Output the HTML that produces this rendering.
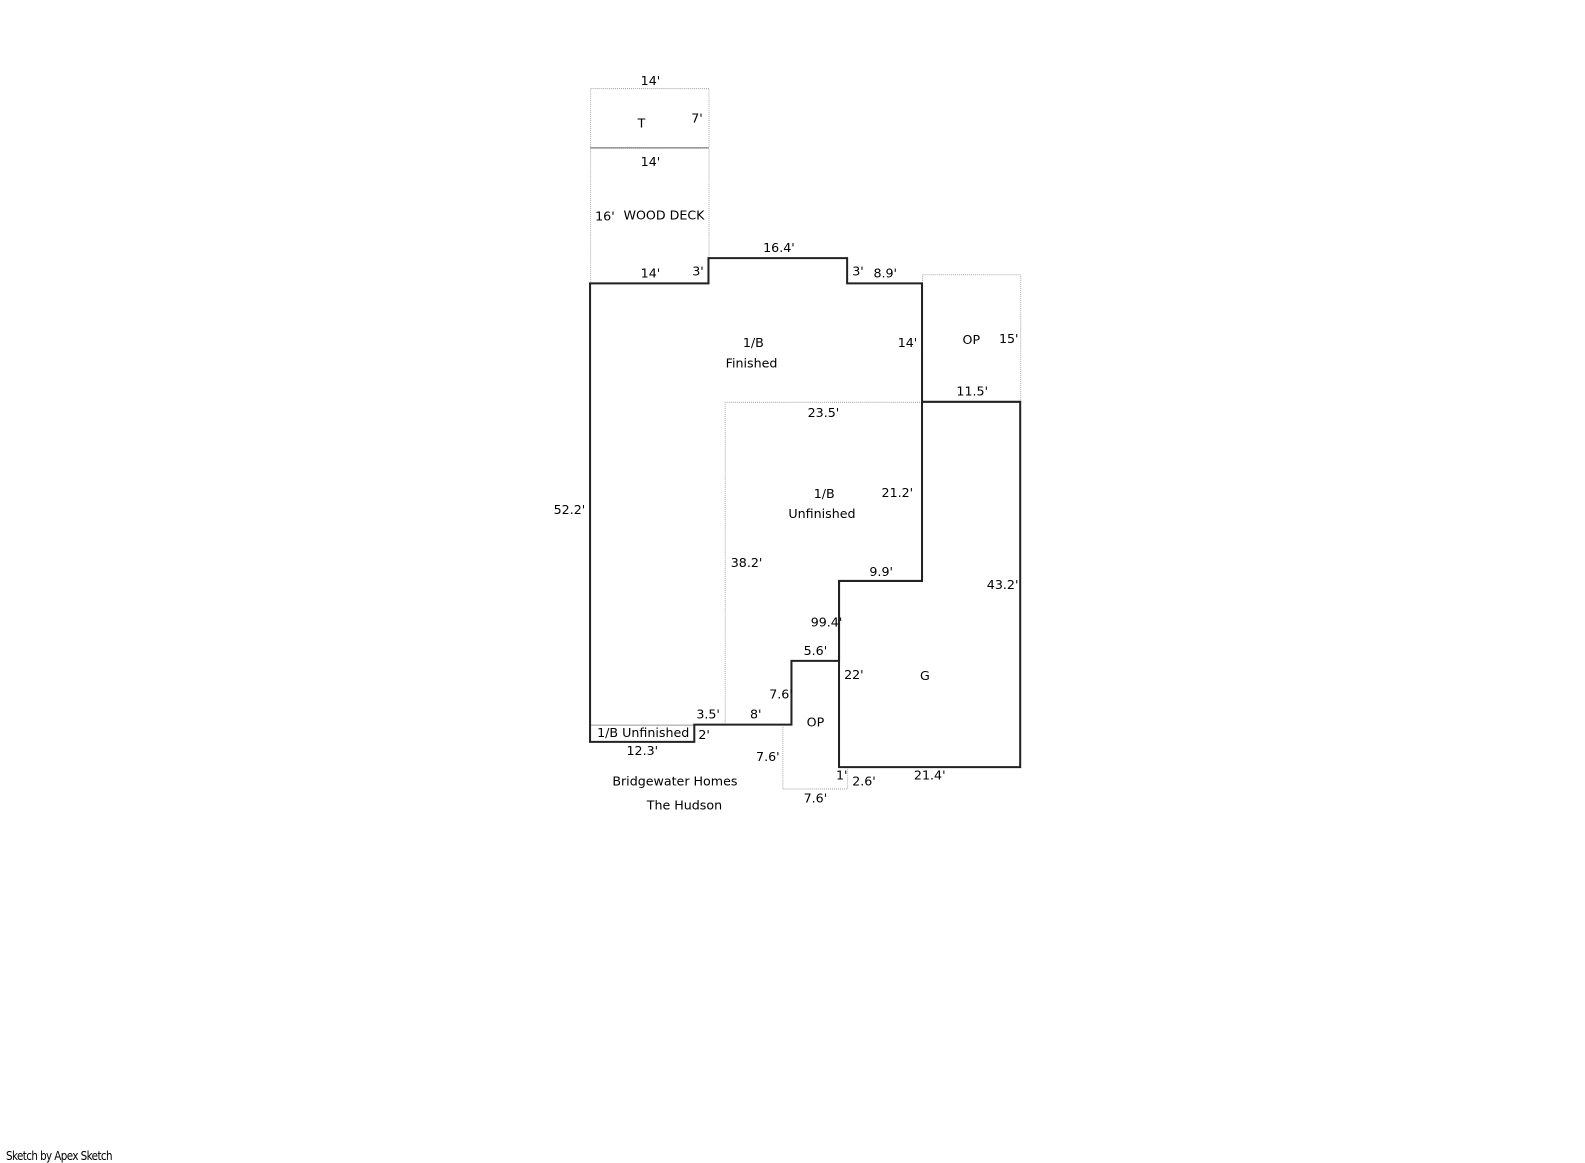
<!DOCTYPE html>
<html><head><style>
html,body{margin:0;padding:0;background:#fff;width:1585px;height:1163px;overflow:hidden}
svg{display:block}
svg text{font-family:"DejaVu Sans","Liberation Sans",sans-serif;font-size:12.5px;fill:#000}
</style></head><body>
<svg width="1585" height="1163" xmlns="http://www.w3.org/2000/svg">
<g transform="scale(1.0121)">
<g fill="none" stroke="#aaa" stroke-width="1" stroke-dasharray="1,1">
<rect x="583.5" y="87.5" width="117" height="59"/>
<rect x="583.5" y="146.5" width="117" height="134"/>
<rect x="911.5" y="271.5" width="97" height="126"/>
<path d="M716.5 716 V397.5 H911"/>
<path d="M773.5 716 V779.5 H837.5 V758"/>
</g>
<line x1="583" y1="146" x2="700" y2="146" stroke="#999" stroke-width="1.5"/>
<line x1="583" y1="716.5" x2="686" y2="716.5" stroke="#999" stroke-width="1"/>
<g fill="none" stroke="#222" stroke-width="2">
<path d="M583 280 H700 V255 H837 V280 H911 V574 H829 V653 H782 V716 H686 V733 H583 Z"/>
<path d="M911 397 H1008 V758 H829 V574"/>
</g>
<text x="633" y="84">14'</text>
<text x="630" y="126" font-size="15">T</text>
<text x="683" y="121">7'</text>
<text x="633" y="164">14'</text>
<text x="588" y="218">16'</text>
<text x="616" y="217" font-size="11">WOOD DECK</text>
<text x="633" y="274">14'</text>
<text x="684" y="272">3'</text>
<text x="754" y="249">16.4'</text>
<text x="842" y="272">3'</text>
<text x="863" y="274">8.9'</text>
<text x="887" y="343">14'</text>
<text x="951" y="340">OP</text>
<text x="987" y="339">15'</text>
<text x="945" y="391">11.5'</text>
<text x="734" y="343">1/B</text>
<text x="717" y="363">Finished</text>
<text x="798" y="412">23.5'</text>
<text x="804" y="492">1/B</text>
<text x="779" y="512">Unfinished</text>
<text x="871" y="491">21.2'</text>
<text x="547" y="508">52.2'</text>
<text x="722" y="560">38.2'</text>
<text x="859" y="569">9.9'</text>
<text x="975" y="582">43.2'</text>
<text x="801" y="619">99.4'</text>
<text x="794" y="647">5.6'</text>
<text x="834" y="671">22'</text>
<text x="909" y="672">G</text>
<text x="760" y="690">7.6'</text>
<text x="688" y="710">3.5'</text>
<text x="741" y="710">8'</text>
<text x="797" y="718">OP</text>
<text x="590" y="728">1/B Unfinished</text>
<text x="690" y="730">2'</text>
<text x="619" y="746">12.3'</text>
<text x="747" y="752">7.6'</text>
<text x="826" y="770">1'</text>
<text x="842" y="776">2.6'</text>
<text x="903" y="770">21.4'</text>
<text x="605" y="776">Bridgewater Homes</text>
<text x="639" y="800">The Hudson</text>
<text x="794" y="793">7.6'</text>
</g>
<text x="6" y="1160" font-size="9.5" letter-spacing="-0.7" textLength="106" lengthAdjust="spacingAndGlyphs">Sketch by Apex Sketch</text>
</svg>
</body></html>
